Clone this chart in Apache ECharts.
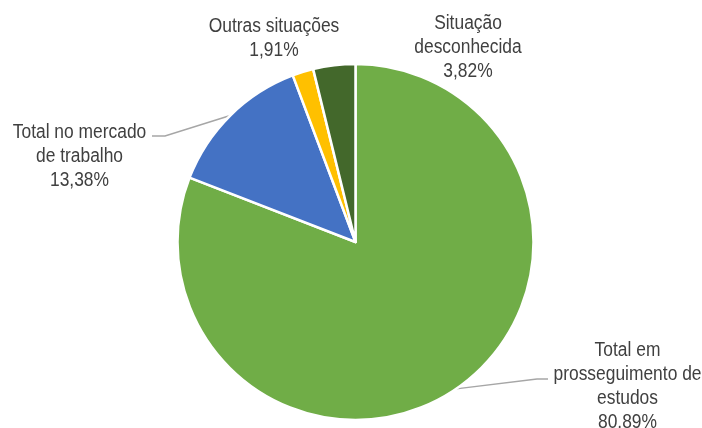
<!DOCTYPE html>
<html>
<head>
<meta charset="utf-8">
<script src="https://cdn.jsdelivr.net/npm/echarts@6/dist/echarts.min.js"></script>
<style>
  html, body { margin: 0; padding: 0; background: #fff; }
  #chart { width: 702px; height: 428px; }
</style>
</head>
<body>
<div id="chart"></div>
<script>
// Situation categories (clockwise from 12 o'clock)
const categories = [
  'Total em\nprosseguimento de\nestudos',
  'Total no mercado\nde trabalho',
  'Outras situações',
  'Situação\ndesconhecida'
];
// Share of each situation, in percent
const shares = [80.89, 13.38, 1.91, 3.82];
// Decimal separator used in each label
const decimalSeps = ['.', ',', ',', ','];
const colors = ['#70AD47', '#4472C4', '#FFC000', '#43682B'];

// Label placement: text anchor (top-centre), and leader line bends where drawn
const labelSpots = [
  { x: 627.5, y: 338.5, line: true, elbow: [537, 379], end: [548, 379] },
  { x: 79.5, y: 120, line: true, elbow: [165, 136], end: [152, 136] },
  { x: 274, y: 14, line: false },
  { x: 468, y: 11, line: false }
];

// Condensed label face: regular sans squeezed horizontally
const LABEL_FONT = '20px "Liberation Sans", Arial, sans-serif';
const LABEL_SQUEEZE = 0.87;

function labelText(i) {
  return categories[i] + '\n' + shares[i].toFixed(2).replace('.', decimalSeps[i]) + '%';
}

const chart = echarts.init(document.getElementById('chart'), null, { renderer: 'canvas' });

const data = categories.map((name, i) => ({
  name: name,
  value: shares[i],
  itemStyle: { color: colors[i] },
  labelLine: { show: labelSpots[i].line }
}));

const labelGraphics = categories.map((_, i) => ({
  type: 'text',
  x: labelSpots[i].x,
  y: labelSpots[i].y,
  scaleX: LABEL_SQUEEZE,
  silent: true,
  style: {
    text: labelText(i),
    font: LABEL_FONT,
    lineHeight: 24,
    fill: '#404040',
    textAlign: 'center',
    textVerticalAlign: 'top'
  }
}));

chart.setOption({
  animation: false,
  backgroundColor: '#ffffff',
  graphic: { elements: labelGraphics },
  series: [{
    type: 'pie',
    center: [355.5, 242],
    radius: 178,
    startAngle: 90,
    clockwise: true,
    avoidLabelOverlap: false,
    itemStyle: { borderColor: '#ffffff', borderWidth: 2.5 },
    label: {
      show: true,
      position: 'outside',
      formatter: () => ''
    },
    labelLine: {
      lineStyle: { color: '#A6A6A6', width: 1.5 },
      length: 20,
      length2: 10
    },
    labelLayout: function (params) {
      const s = labelSpots[params.dataIndex];
      const out = { x: s.x, y: s.y };
      if (s.line && params.labelLinePoints) {
        out.labelLinePoints = [params.labelLinePoints[0], s.elbow, s.end];
      }
      return out;
    },
    data: data
  }]
});
</script>
</body>
</html>
